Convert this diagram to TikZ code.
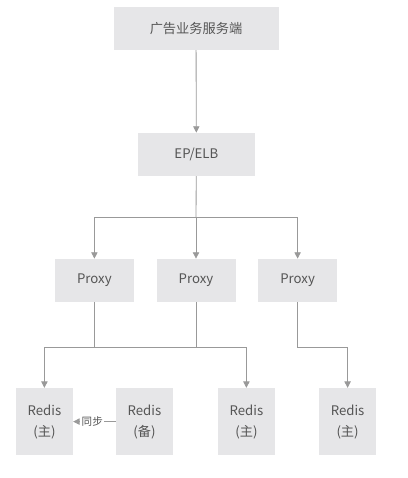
\documentclass[tikz,border=0pt]{standalone}
\usepackage{fontspec}
\setmainfont{Noto Sans CJK SC}
\usetikzlibrary{arrows.meta}
\definecolor{boxgray}{HTML}{E6E6E8}
\definecolor{linegray}{HTML}{999999}
\definecolor{textgray}{HTML}{555555}

\begin{document}
\begin{tikzpicture}[
  box/.style={fill=boxgray,text=textgray,font=\fontsize{9.4}{15}\selectfont,align=center,inner sep=0pt},
  arr/.style={draw=linegray,line width=0.6pt,-{Triangle[length=4.5pt,width=4.5pt]}},
  link/.style={draw=linegray,line width=0.6pt}]
\useasboundingbox (0,0) rectangle (10.2,-11.95);
\node[box,minimum width=4.125cm,minimum height=1.075cm] (ad) at (4.9,-0.71) {广告业务服务端};
\node[box,minimum width=2.925cm,minimum height=1.075cm] (ep) at (4.91,-3.86) {EP/ELB};
\node[box,minimum width=1.975cm,minimum height=1.075cm] (p1) at (2.36,-7.01) {Proxy};
\node[box,minimum width=1.975cm,minimum height=1.075cm] (p2) at (4.9,-7.01) {Proxy};
\node[box,minimum width=1.975cm,minimum height=1.075cm] (p3) at (7.44,-7.01) {Proxy};
\node[box,minimum width=1.425cm,minimum height=1.675cm] (r1) at (1.11,-10.54) {Redis\\(主)};
\node[box,minimum width=1.425cm,minimum height=1.675cm] (r2) at (3.61,-10.54) {Redis\\(备)};
\node[box,minimum width=1.425cm,minimum height=1.675cm] (r3) at (6.16,-10.54) {Redis\\(主)};
\node[box,minimum width=1.425cm,minimum height=1.675cm] (r4) at (8.69,-10.54) {Redis\\(主)};
\coordinate (split) at (4.9,-5.425);
\coordinate (b1) at (2.36,-8.675);
\coordinate (b2) at (4.9,-8.675);
\coordinate (b3) at (7.44,-8.675);
% service -> load balancer
\draw[arr] (ad) -- (ep);
\draw[link] (ep) -- (split);
\draw[arr] (split) -| (p1);
\draw[arr] (split) -- (p2);
\draw[arr] (split) -| (p3);
% proxies -> redis
\draw[link] (p1) -- (b1);
\draw[link] (p2) -- (b2);
\draw[arr] (b1) -| (r1);
\draw[arr] (b1) -| (r3);
\draw[arr] (p3) -- (b3) -| (r4);
\draw[arr] (r2) -- node[pos=0.55,fill=white,text=textgray,inner sep=1pt,font=\fontsize{7.5}{9}\selectfont] {同步} (r1);
\end{tikzpicture}
\end{document}
